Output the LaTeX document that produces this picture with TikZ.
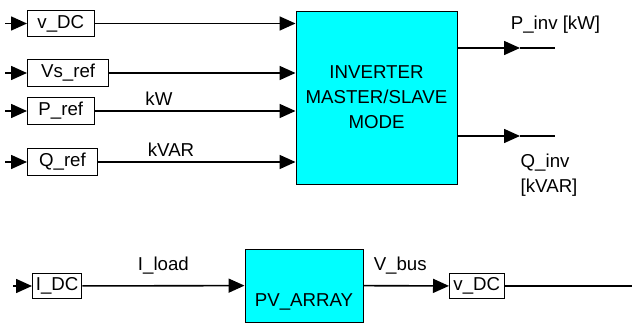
\documentclass[tikz,border=0pt]{standalone}
\usepackage{fontspec}
\setmainfont{Liberation Sans}
\usepackage{xcolor}
\usetikzlibrary{arrows.meta, positioning, calc}
\definecolor{blockcyan}{RGB}{0,255,255}
\tikzstyle{block} = [draw, rectangle, fill=blockcyan, line width=0.7pt, align=center]
\tikzstyle{tag} = [draw, rectangle, fill=white, line width=0.7pt, minimum height=17.5pt, inner xsep=2pt, anchor=west]
\tikzstyle{arrow} = [line width=1.2pt, -{Triangle[length=12pt,width=10.5pt]}]
\tikzstyle{wire} = [line width=1.2pt]

\begin{document}
\begin{tikzpicture}[x=0.75pt, y=-0.75pt, font=\fontsize{14}{18.75}\selectfont]
    \useasboundingbox (0,0) rectangle (632,323);

    % inverter and its inputs
    \node (inv) [block, minimum width=120.75pt, minimum height=129.75pt] at (376.5,97.5) {INVERTER\\MASTER/SLAVE\\MODE};
    \node (vdc) [tag, minimum width=50pt] at (27,23.5) {v\_DC};
    \node (vsref) [tag, minimum width=61pt] at (27,73) {Vs\_ref};
    \node (pref) [tag, minimum width=50pt] at (27,111) {P\_ref};
    \node (qref) [tag, minimum width=52.5pt] at (27,162) {Q\_ref};
    \coordinate (vdcin) at (5,23.5);
    \coordinate (vsrefin) at (5,73);
    \coordinate (prefin) at (5,111);
    \coordinate (qrefin) at (5,162);

    \draw [arrow] (vdcin) -- (vdc);
    \draw [arrow] (vsrefin) -- (vsref);
    \draw [arrow] (prefin) -- (pref);
    \draw [arrow] (qrefin) -- (qref);
    \draw [arrow] (vdc) -- (inv.west |- vdc);
    \draw [arrow] (vsref) -- (inv.west |- vsref);
    \draw [arrow] (pref) -- node[pos=0.32, above] {kW} (inv.west |- pref);
    \draw [arrow] (qref) -- node[pos=0.37, above] {kVAR} (inv.west |- qref);

    % inverter outputs
    \coordinate (pinvtip) at (520,48);
    \coordinate (pinvend) at (555,48);
    \coordinate (qinvtip) at (520,136);
    \coordinate (qinvend) at (555,136);
    \draw [arrow] (inv.east |- pinvtip) -- (pinvtip);
    \draw [wire] (pinvtip) -- (pinvend);
    \draw [arrow] (inv.east |- qinvtip) -- (qinvtip);
    \draw [wire] (qinvtip) -- (qinvend);
    \node (pinvlbl) at (555.5,25) {P\_inv [kW]};
    \node (qinvlbl) [align=left, anchor=west] at (516,175.5) {Q\_inv\\{[kVAR]}};

    % PV array
    \node (pv) [block, minimum width=88.5pt, minimum height=54.75pt, label={[yshift=-12pt]center:PV\_ARRAY}] at (304,285.5) {};
    \node (idc) [tag, minimum width=37pt] at (32,286) {I\_DC};
    \node (vdcout) [tag, minimum width=41pt] at (449,286) {v\_DC};
    \coordinate (idcin) at (13,286);
    \coordinate (busend) at (632,286);

    \draw [arrow] (idcin) -- (idc);
    \draw [arrow] (idc) -- node[midway, above=4.5pt] {I\_load} (pv);
    \draw [arrow] (pv) -- node[pos=0.43, above=4.5pt] {V\_bus} (vdcout);
    \draw [wire] (vdcout) -- (busend);
\end{tikzpicture}
\end{document}
